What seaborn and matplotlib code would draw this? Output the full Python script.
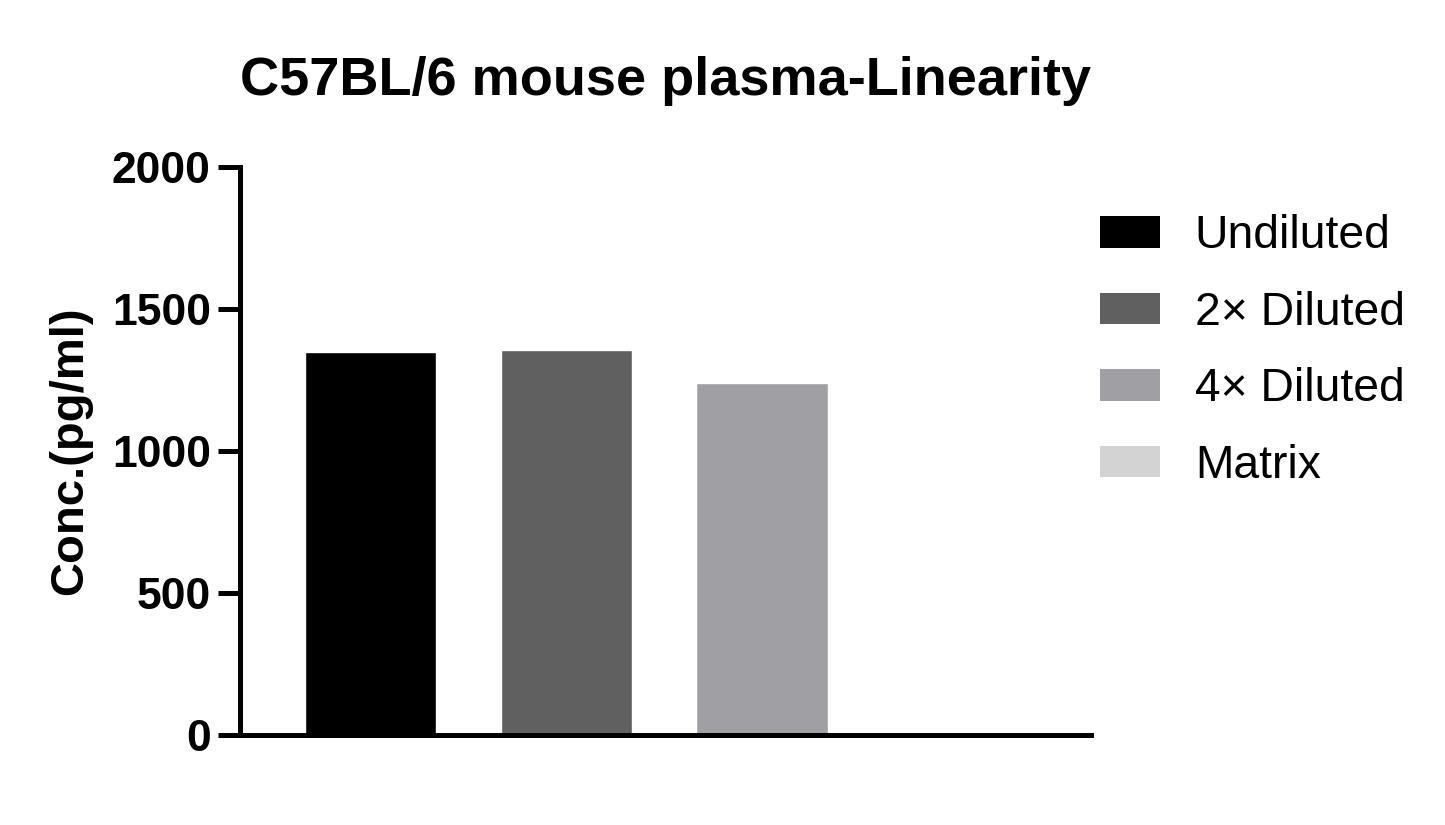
import pandas as pd
import matplotlib
matplotlib.use("Agg")
import matplotlib.pyplot as plt
import seaborn as sns
from matplotlib.patches import Patch

# Datos
muestras = ["Undiluted", "2× Diluted", "4× Diluted", "Matrix"]
conc = [1350, 1355, 1240, 0]
colores = ["#000000", "#606060", "#a0a0a4", "#d3d3d3"]
yticks = [0, 500, 1000, 1500, 2000]

df = pd.DataFrame({"muestra": muestras, "conc": conc})

sns.set_style("ticks")
plt.rcParams["font.family"] = ["Liberation Sans", "DejaVu Sans"]
plt.rcParams["text.color"] = "black"
plt.rcParams["axes.labelcolor"] = "black"
plt.rcParams["ytick.color"] = "black"

fig = plt.figure(figsize=(14.45, 8.25), dpi=100)
ax = fig.add_axes([240 / 1445, 1 - 735 / 825, (1091 - 240) / 1445, (735 - 167) / 825])

sns.barplot(data=df, x="muestra", y="conc", hue="muestra", palette=colores,
            width=0.67, saturation=1, legend=False, ax=ax)

ax.set_xlim(-0.666, 3.68)
ax.set_ylim(0, 2000)
ax.set_yticks(yticks)
ax.set_xticks([])
ax.set_xlabel("")
ax.set_ylabel("Conc.(pg/ml)", fontsize=34, fontweight="bold", labelpad=14)
ax.set_title("C57BL/6 mouse plasma-Linearity", fontsize=39, fontweight="bold", pad=52)

for lbl in ax.get_yticklabels():
    lbl.set_fontweight("bold")
ax.tick_params(axis="y", labelsize=32, width=3.6, length=16, pad=5, color="black")
for s in ["left", "bottom"]:
    ax.spines[s].set_linewidth(3.6)
    ax.spines[s].set_color("black")
sns.despine(ax=ax)

handles = [Patch(facecolor=c, edgecolor="none") for c in colores]
fig.legend(handles, muestras, loc="upper left", bbox_to_anchor=(1100 / 1445, 1 - 214 / 825),
           frameon=False, fontsize=33.3, handlelength=1.3, handleheight=0.68,
           handletextpad=0.75, labelspacing=0.705, borderpad=0, borderaxespad=0)

fig.savefig("out.png", dpi=100)
